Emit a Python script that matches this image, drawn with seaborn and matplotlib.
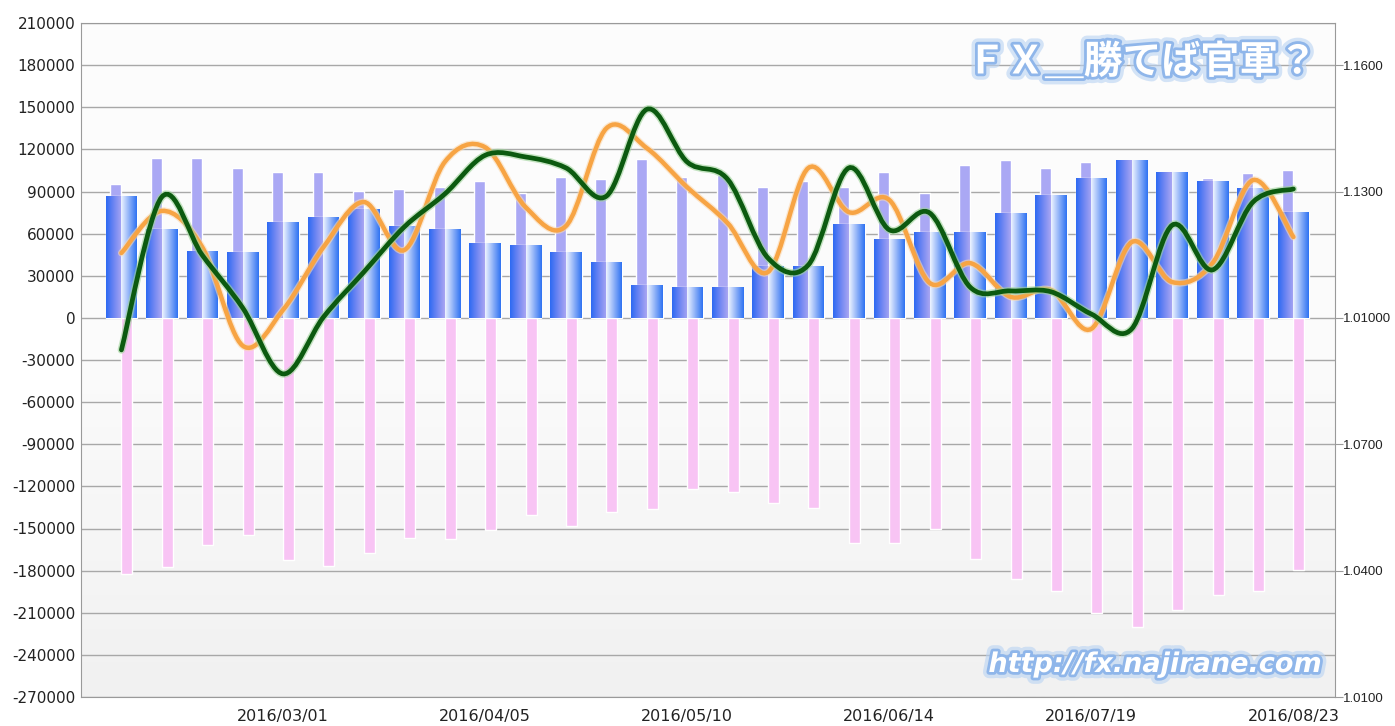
import numpy as np
import pandas as pd
import seaborn as sns
import matplotlib
matplotlib.use("Agg")
import matplotlib.pyplot as plt
import matplotlib.dates as mdates
from matplotlib.path import Path
from matplotlib.patches import PathPatch
from matplotlib.colors import LinearSegmentedColormap
import matplotlib.patheffects as pe

# weekly data
weeks = ["2016-02-02", "2016-02-09", "2016-02-16", "2016-02-23", "2016-03-01",
         "2016-03-08", "2016-03-15", "2016-03-22", "2016-03-29", "2016-04-05",
         "2016-04-12", "2016-04-19", "2016-04-26", "2016-05-03", "2016-05-10",
         "2016-05-17", "2016-05-24", "2016-05-31", "2016-06-07", "2016-06-14",
         "2016-06-21", "2016-06-28", "2016-07-05", "2016-07-12", "2016-07-19",
         "2016-07-26", "2016-08-02", "2016-08-09", "2016-08-16", "2016-08-23"]

net_pos = [87000, 63300, 47900, 46900, 68500, 71800, 77300, 65600, 63500, 53100,
           52200, 46900, 39600, 23200, 22000, 22000, 37200, 37200, 66600, 56400,
           61400, 61400, 74900, 87200, 99800, 112100, 104100, 97700, 92700, 75600]

long_pos = [95300, 114000, 114000, 106900, 103800, 103800, 90300, 91500, 93400, 97700,
            89000, 100500, 98600, 113000, 100500, 101700, 93400, 97700, 93400, 103600,
            88600, 108800, 112100, 106900, 111200, 112000, 104000, 99300, 102900, 105000]

short_pos = [-182300, -177300, -161900, -154300, -172100, -176400, -167800, -156700, -157400, -150800,
             -140600, -148400, -138200, -136100, -121800, -124200, -131800, -135600, -160200, -160200,
             -150000, -171400, -185800, -194600, -210000, -220000, -208100, -197700, -194600, -179700]

rate_green = [1.0924, 1.1287, 1.1149, 1.1024, 1.0867, 1.1002, 1.1109, 1.1216, 1.1294, 1.1386,
              1.1382, 1.1356, 1.1289, 1.1495, 1.1370, 1.1329, 1.1142, 1.1126, 1.1356, 1.1209,
              1.1249, 1.1073, 1.1064, 1.1062, 1.1009, 1.0974, 1.1220, 1.1114, 1.1275, 1.1306]

rate_orange = [1.1154, 1.1254, 1.1168, 1.0934, 1.1019, 1.1168, 1.1275, 1.1161, 1.1370, 1.1405,
               1.1263, 1.1218, 1.1450, 1.1403, 1.1310, 1.1225, 1.1109, 1.1356, 1.1251, 1.1280,
               1.1083, 1.1130, 1.1050, 1.1066, 1.0974, 1.1180, 1.1085, 1.1130, 1.1327, 1.1192]

date_ticks = ["2016-03-01", "2016-04-05", "2016-05-10", "2016-06-14", "2016-07-19", "2016-08-23"]
left_ticks = list(range(-270000, 210001, 30000))
right_ticks = [1.01, 1.04, 1.07, 1.10, 1.13, 1.16]
right_labels = ["1.0100", "1.0400", "1.0700", "1.01000", "1.1300", "1.1600"]

sns.set_style("white")
plt.rcParams["font.family"] = ["DejaVu Sans", "Noto Sans CJK JP"]

x = mdates.date2num(pd.to_datetime(weeks))
grey = "#9a9a9a"


def smooth_path(xs, ys):
    # catmull-rom through the weekly points, handed to matplotlib as bezier segments
    p = np.column_stack([xs, ys])
    pp = np.vstack([p[0], p, p[-1]])
    verts = [p[0]]
    codes = [Path.MOVETO]
    for i in range(1, len(pp) - 2):
        c1 = pp[i] + (pp[i + 1] - pp[i - 1]) / 6.0
        c2 = pp[i + 1] - (pp[i + 2] - pp[i]) / 6.0
        verts += [c1, c2, pp[i + 1]]
        codes += [Path.CURVE4] * 3
    return Path(verts, codes)


fig = plt.figure(figsize=(13.95, 7.26), dpi=100)
ax = fig.add_axes([81 / 1395, 29 / 726, 1254 / 1395, 674 / 726])

# plot area background
bg = LinearSegmentedColormap.from_list("bg", ["#f1f1f1", "#fbfbfb", "#fdfdfd"])
ax.imshow(np.linspace(0, 1, 256).reshape(-1, 1), cmap=bg, aspect="auto",
          extent=[0, 1, 0, 1], transform=ax.transAxes, zorder=0, origin="lower")

half = 2.72   # days
thin = 1.9

ax.bar(x, long_pos, width=-thin, align="edge", color="#aaa8f4", zorder=2)
bl = ax.bar(x - half, net_pos, width=half, align="edge", color="#5a80f0", zorder=3)
br = ax.bar(x, net_pos, width=half, align="edge", color="#8fb0f5", zorder=3)
ax.bar(x, short_pos, width=thin, align="edge", color="#f8c4f4", zorder=3)

cm_left = LinearSegmentedColormap.from_list("l", ["#2d6af3", "#6f86f2", "#a9a6f3"])
cm_right = LinearSegmentedColormap.from_list("r", ["#eef4ff", "#8fb2f8", "#2f72f2"])
grad = np.linspace(0, 1, 64).reshape(1, -1)
for bars, cmap in ((bl, cm_left), (br, cm_right)):
    for patch in bars:
        bb = patch.get_bbox()
        im = ax.imshow(grad, cmap=cmap, aspect="auto", zorder=3.5,
                       extent=[bb.x0, bb.x1, bb.y0, bb.y1])
        im.set_clip_path(patch)

ax.set_xlim(x[0] - 7.0, x[-1] + 7.2)
ax.set_ylim(-270000, 210000)
ax.set_yticks(left_ticks)
ax.set_yticklabels([str(v) for v in left_ticks])
ax.yaxis.grid(True, color="#a8a8a8", lw=1)
ax.set_axisbelow(True)
ax.xaxis.set_major_locator(matplotlib.ticker.FixedLocator(mdates.date2num(pd.to_datetime(date_ticks))))
ax.xaxis.set_major_formatter(mdates.DateFormatter("%Y/%m/%d"))
ax.tick_params(axis="y", length=0, pad=4, labelsize=11, colors="#222222")
ax.tick_params(axis="x", direction="in", length=10, color=grey, pad=9, labelsize=11.5,
               labelcolor="#222222")
for s in ax.spines.values():
    s.set_color(grey)

ax2 = ax.twinx()
ax2.set_ylim(1.01, 1.17)
ax2.set_yticks(right_ticks)
ax2.set_yticklabels(right_labels, family=["Liberation Sans"], fontsize=9.5)
ax2.tick_params(axis="y", direction="out", length=6, color=grey, pad=0,
                labelcolor="#222222")
for s in ax2.spines.values():
    s.set_visible(False)

ax2.add_patch(PathPatch(smooth_path(x, rate_orange), fill=False, ec="#f7a444", lw=3.2,
                        zorder=5, capstyle="round",
                        path_effects=[pe.Stroke(linewidth=5, foreground="#fbd9b0", alpha=0.6), pe.Normal()]))
ax2.add_patch(PathPatch(smooth_path(x, rate_green), fill=False, ec="#0c5a10", lw=3.4,
                        zorder=6, capstyle="round",
                        path_effects=[pe.Stroke(linewidth=5.5, foreground="#9fd49a", alpha=0.6), pe.Normal()]))

glow = [pe.Stroke(linewidth=9, foreground="#b9d3f3", alpha=0.6),
        pe.Stroke(linewidth=4, foreground="#8fb6ea"), pe.Normal()]
fig.text(1142 / 1395, 1 - 62 / 726, "ＦＸ＿勝てば官軍？", ha="center", va="center", fontsize=28,
         fontweight="bold", color="white", family=["Noto Sans CJK JP"], path_effects=glow)
fig.text(1155 / 1395, 1 - 665 / 726, "http://fx.najirane.com", ha="center", va="center",
         fontsize=19.5, fontweight="bold", style="italic", color="white", path_effects=glow)

fig.savefig("out.png", dpi=100)
